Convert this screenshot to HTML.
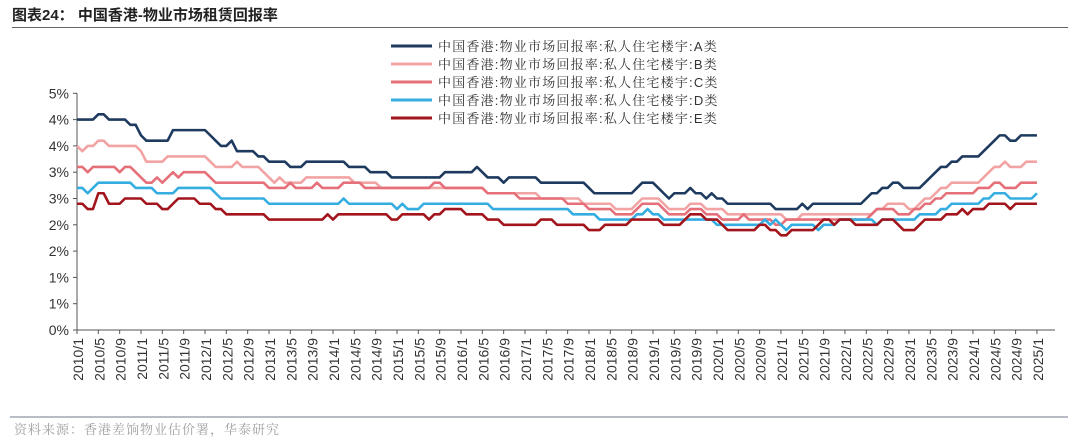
<!DOCTYPE html>
<html><head><meta charset="utf-8"><style>
html,body{margin:0;padding:0;background:#fff;width:1080px;height:442px;overflow:hidden}
svg{display:block}
</style></head><body>
<svg id="chart" width="1080" height="442" xmlns="http://www.w3.org/2000/svg" font-family="'Liberation Sans','Noto Sans CJK SC',sans-serif">
<g>
<text x="12" y="20" font-size="15" font-weight="bold" fill="#222" font-family="'Liberation Sans','Noto Sans CJK SC',sans-serif">图表24：  中国香港-物业市场租赁回报率</text>
<line x1="12" y1="27.5" x2="1068" y2="27.5" stroke="#666" stroke-width="1"/>
</g>
<g id="legend"></g>
<g id="axes"></g>
<g id="series"></g>
<g>
<line x1="10" y1="417" x2="1068" y2="417" stroke="#b8bcc4" stroke-width="2"/>
<text x="14" y="434" font-size="13" fill="#a0a0a0" letter-spacing="1" font-family="'Liberation Serif','Noto Serif CJK SC',serif">资料来源：香港差饷物业估价署，华泰研究</text>
</g>
</svg>
<script>
const seriesNames = ["中国香港:物业市场回报率:私人住宅楼宇:A类","中国香港:物业市场回报率:私人住宅楼宇:B类","中国香港:物业市场回报率:私人住宅楼宇:C类","中国香港:物业市场回报率:私人住宅楼宇:D类","中国香港:物业市场回报率:私人住宅楼宇:E类"];
const seriesColors = ["#1f3a5f","#f2a3a3","#e5707a","#35ade0","#a3151d"];
const yTicks = [0,0.5,1,1.5,2,2.5,3,3.5,4,4.5];
const yTickLabels = ["0%","1%","1%","2%","2%","3%","3%","4%","4%","5%"];
const startYear = 2010, startMonth = 1, monthCount = 181;
const seriesA = [
4.0,4.0,4.0,4.0,4.1,4.1,4.0,4.0,4.0,4.0,
3.9,3.9,3.7,3.6,3.6,3.6,3.6,3.6,3.8,3.8,
3.8,3.8,3.8,3.8,3.8,3.7,3.6,3.5,3.5,3.6,
3.4,3.4,3.4,3.4,3.3,3.3,3.2,3.2,3.2,3.2,
3.1,3.1,3.1,3.2,3.2,3.2,3.2,3.2,3.2,3.2,
3.2,3.1,3.1,3.1,3.1,3.0,3.0,3.0,3.0,2.9,
2.9,2.9,2.9,2.9,2.9,2.9,2.9,2.9,2.9,3.0,
3.0,3.0,3.0,3.0,3.0,3.1,3.0,2.9,2.9,2.9,
2.8,2.9,2.9,2.9,2.9,2.9,2.9,2.8,2.8,2.8,
2.8,2.8,2.8,2.8,2.8,2.8,2.7,2.6,2.6,2.6,
2.6,2.6,2.6,2.6,2.6,2.7,2.8,2.8,2.8,2.7,
2.6,2.5,2.6,2.6,2.6,2.7,2.6,2.6,2.5,2.6,
2.5,2.5,2.4,2.4,2.4,2.4,2.4,2.4,2.4,2.4,
2.4,2.3,2.3,2.3,2.3,2.3,2.4,2.3,2.4,2.4,
2.4,2.4,2.4,2.4,2.4,2.4,2.4,2.4,2.5,2.6,
2.6,2.7,2.7,2.8,2.8,2.7,2.7,2.7,2.7,2.8,
2.9,3.0,3.1,3.1,3.2,3.2,3.3,3.3,3.3,3.3,
3.4,3.5,3.6,3.7,3.7,3.6,3.6,3.7,3.7,3.7,3.7];
const seriesB = [
3.5,3.4,3.5,3.5,3.6,3.6,3.5,3.5,3.5,3.5,
3.5,3.5,3.4,3.2,3.2,3.2,3.2,3.3,3.3,3.3,
3.3,3.3,3.3,3.3,3.3,3.2,3.1,3.1,3.1,3.1,
3.2,3.1,3.1,3.1,3.1,3.0,2.9,2.8,2.9,2.8,
2.8,2.8,2.8,2.9,2.9,2.9,2.9,2.9,2.9,2.9,
2.9,2.9,2.8,2.8,2.8,2.8,2.8,2.7,2.7,2.7,
2.7,2.7,2.7,2.7,2.7,2.7,2.7,2.7,2.7,2.7,
2.7,2.7,2.7,2.7,2.7,2.7,2.7,2.6,2.6,2.6,
2.6,2.6,2.6,2.6,2.6,2.6,2.6,2.5,2.5,2.5,
2.5,2.5,2.5,2.5,2.5,2.4,2.4,2.4,2.4,2.4,
2.4,2.3,2.3,2.3,2.3,2.4,2.5,2.5,2.5,2.5,
2.4,2.3,2.3,2.3,2.3,2.4,2.4,2.4,2.3,2.3,
2.3,2.3,2.2,2.2,2.2,2.2,2.2,2.2,2.2,2.2,
2.2,2.2,2.2,2.1,2.1,2.1,2.2,2.2,2.2,2.2,
2.2,2.2,2.2,2.2,2.2,2.2,2.2,2.2,2.2,2.2,
2.3,2.3,2.4,2.4,2.4,2.4,2.3,2.3,2.4,2.5,
2.5,2.6,2.7,2.7,2.8,2.8,2.8,2.8,2.8,2.8,
2.9,3.0,3.1,3.1,3.2,3.1,3.1,3.1,3.2,3.2,3.2];
const seriesC = [
3.1,3.1,3.0,3.1,3.1,3.1,3.1,3.1,3.0,3.1,
3.1,3.0,2.9,2.8,2.8,2.9,2.8,2.9,3.0,2.9,
3.0,3.0,3.0,3.0,3.0,2.9,2.8,2.8,2.8,2.8,
2.8,2.8,2.8,2.8,2.8,2.8,2.7,2.7,2.7,2.7,
2.8,2.7,2.7,2.7,2.7,2.8,2.7,2.7,2.7,2.7,
2.8,2.8,2.8,2.8,2.7,2.7,2.7,2.7,2.7,2.7,
2.7,2.7,2.7,2.7,2.7,2.7,2.7,2.8,2.8,2.7,
2.7,2.7,2.7,2.7,2.7,2.7,2.7,2.6,2.6,2.6,
2.6,2.6,2.6,2.5,2.5,2.5,2.5,2.5,2.5,2.5,
2.5,2.5,2.4,2.4,2.4,2.4,2.3,2.3,2.3,2.3,
2.3,2.2,2.2,2.2,2.2,2.3,2.4,2.4,2.4,2.4,
2.3,2.2,2.2,2.2,2.2,2.3,2.3,2.3,2.2,2.2,
2.2,2.1,2.1,2.1,2.1,2.2,2.1,2.1,2.1,2.1,
2.1,2.0,2.0,2.1,2.1,2.1,2.1,2.1,2.1,2.1,
2.1,2.1,2.1,2.1,2.1,2.1,2.1,2.1,2.1,2.2,
2.3,2.3,2.3,2.3,2.2,2.2,2.2,2.3,2.3,2.4,
2.4,2.5,2.5,2.6,2.6,2.6,2.6,2.6,2.6,2.7,
2.7,2.7,2.8,2.8,2.7,2.7,2.7,2.8,2.8,2.8,2.8];
const seriesD = [
2.7,2.7,2.6,2.7,2.8,2.8,2.8,2.8,2.8,2.8,
2.8,2.7,2.7,2.7,2.7,2.6,2.6,2.6,2.6,2.7,
2.7,2.7,2.7,2.7,2.7,2.7,2.6,2.5,2.5,2.5,
2.5,2.5,2.5,2.5,2.5,2.5,2.4,2.4,2.4,2.4,
2.4,2.4,2.4,2.4,2.4,2.4,2.4,2.4,2.4,2.4,
2.5,2.4,2.4,2.4,2.4,2.4,2.4,2.4,2.4,2.4,
2.3,2.4,2.3,2.3,2.3,2.4,2.4,2.4,2.4,2.4,
2.4,2.4,2.4,2.4,2.4,2.4,2.4,2.4,2.3,2.3,
2.3,2.3,2.3,2.3,2.3,2.3,2.3,2.3,2.3,2.3,
2.3,2.3,2.3,2.2,2.2,2.2,2.2,2.2,2.1,2.1,
2.1,2.1,2.1,2.1,2.1,2.2,2.2,2.3,2.2,2.2,
2.1,2.1,2.1,2.1,2.1,2.1,2.1,2.1,2.1,2.1,
2.0,2.0,2.0,2.0,2.0,2.0,2.0,2.0,2.0,2.1,
2.0,2.1,2.0,1.9,2.0,2.0,2.0,2.0,2.0,1.9,
2.0,2.0,2.0,2.1,2.1,2.1,2.1,2.1,2.1,2.1,
2.0,2.1,2.1,2.1,2.1,2.1,2.1,2.1,2.2,2.2,
2.2,2.2,2.3,2.3,2.4,2.4,2.4,2.4,2.4,2.4,
2.5,2.5,2.6,2.6,2.6,2.5,2.5,2.5,2.5,2.5,2.6];
const seriesE = [
2.4,2.4,2.3,2.3,2.6,2.6,2.4,2.4,2.4,2.5,
2.5,2.5,2.5,2.4,2.4,2.4,2.3,2.3,2.4,2.5,
2.5,2.5,2.5,2.4,2.4,2.4,2.3,2.3,2.2,2.2,
2.2,2.2,2.2,2.2,2.2,2.2,2.1,2.1,2.1,2.1,
2.1,2.1,2.1,2.1,2.1,2.1,2.1,2.2,2.1,2.2,
2.2,2.2,2.2,2.2,2.2,2.2,2.2,2.2,2.2,2.1,
2.1,2.2,2.2,2.2,2.2,2.2,2.1,2.2,2.2,2.3,
2.3,2.3,2.3,2.2,2.2,2.2,2.2,2.1,2.1,2.1,
2.0,2.0,2.0,2.0,2.0,2.0,2.0,2.1,2.1,2.1,
2.0,2.0,2.0,2.0,2.0,2.0,1.9,1.9,1.9,2.0,
2.0,2.0,2.0,2.0,2.1,2.1,2.1,2.1,2.1,2.1,
2.0,2.0,2.0,2.0,2.1,2.2,2.2,2.2,2.1,2.1,
2.1,2.0,1.9,1.9,1.9,1.9,1.9,1.9,2.0,2.0,
1.9,1.9,1.8,1.8,1.9,1.9,1.9,1.9,1.9,2.0,
2.1,2.1,2.0,2.1,2.1,2.1,2.0,2.0,2.0,2.0,
2.0,2.1,2.1,2.1,2.0,1.9,1.9,1.9,2.0,2.1,
2.1,2.1,2.1,2.2,2.2,2.2,2.3,2.2,2.3,2.3,
2.3,2.4,2.4,2.4,2.4,2.3,2.4,2.4,2.4,2.4,2.4];
const allSeries = [seriesA, seriesB, seriesC, seriesD, seriesE];

const NS = "http://www.w3.org/2000/svg";
const X0 = 77, XSTEP = 5.333, Y0 = 330, YMAX = 4.5, YTOP = 93.3, XEND = 1055;
function xScale(i){ return X0 + i * XSTEP; }
function yScale(v){ return Y0 - v / YMAX * (Y0 - YTOP); }
function mk(tag, attrs, parent){ const e = document.createElementNS(NS, tag); for (const k in attrs) e.setAttribute(k, attrs[k]); parent.appendChild(e); return e; }

const axes = document.getElementById('axes');
const yAxis = mk('line', {x1:X0, y1:YTOP, x2:X0, y2:Y0, stroke:'#555', 'stroke-width':1}, axes);


const xAxis = mk('line', {x1:X0, y1:Y0, x2:XEND, y2:Y0, stroke:'#555', 'stroke-width':1}, axes);


yTicks.forEach((v, k) => {
  const y = yScale(v);
  const t = mk('line', {x1:X0-4, y1:y, x2:X0, y2:y, stroke:'#555', 'stroke-width':1}, axes);
  
  
  const lb = mk('text', {x:69, y:y+5, 'font-size':14, 'text-anchor':'end', fill:'#333'}, axes);
  lb.textContent = yTickLabels[k];
  
  
});
for (let i = 0; i < monthCount; i += 4) {
  const x = xScale(i);
  const t = mk('line', {x1:x, y1:Y0, x2:x, y2:Y0+4, stroke:'#555', 'stroke-width':1}, axes);
  
  
  const m = startMonth - 1 + i;
  const label = (startYear + Math.floor(m / 12)) + '/' + (m % 12 + 1);
  const lx = x + 6, ly = 338;
  const lb = mk('text', {x:lx, y:ly, 'font-size':14, 'text-anchor':'end', fill:'#333', transform:'rotate(-90 '+lx+' '+ly+')'}, axes);
  lb.textContent = label;
  
  
}

const sg = document.getElementById('series');
allSeries.forEach((data, s) => {
  const pts = data.map((v, i) => xScale(i).toFixed(2) + ',' + yScale(v).toFixed(2)).join(' ');
  const pl = mk('polyline', {points:pts, fill:'none', stroke:seriesColors[s], 'stroke-width':2.6, 'stroke-linejoin':'round'}, sg);
  
  
});

const lg = document.getElementById('legend');
seriesNames.forEach((name, s) => {
  const y = 46 + s * 18;
  const g = mk('g', {}, lg);
  
  
  mk('line', {x1:391, y1:y, x2:432, y2:y, stroke:seriesColors[s], 'stroke-width':3}, g);
  const t = mk('text', {x:438, y:y+5, 'font-size':13, 'letter-spacing':'1.2', fill:'#333', 'font-family':"'Liberation Sans','Noto Serif CJK SC',serif"}, g);
  t.textContent = name;
});
</script>
</body></html>
